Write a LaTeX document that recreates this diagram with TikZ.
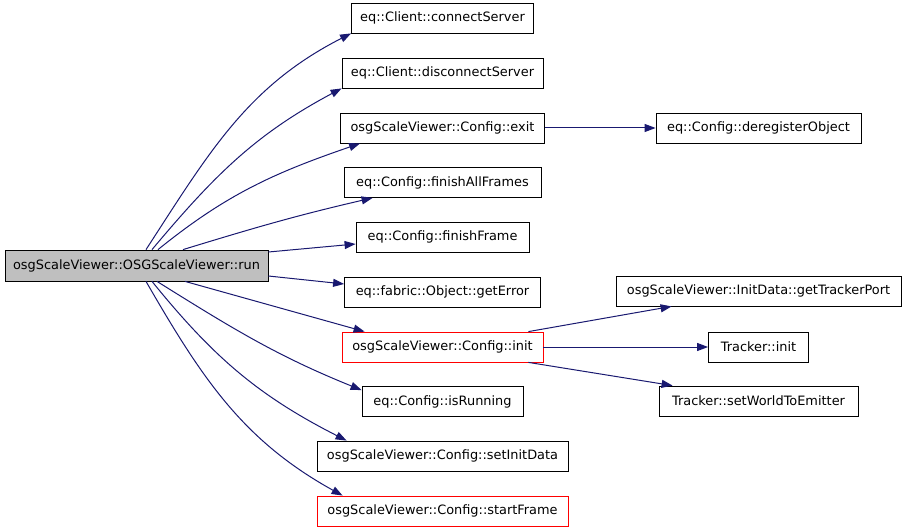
\documentclass[tikz,border=0pt]{standalone}
\usepackage{fontspec}
\setmainfont{DejaVu Sans}
\usetikzlibrary{arrows.meta}

\definecolor{callblue}{HTML}{191970}
\definecolor{rootgray}{HTML}{BFBFBF}

\tikzset{
  fn/.style={draw=black, line width=0.8pt, minimum height=30pt, inner sep=0pt,
    font=\fontsize{12.9}{15}\selectfont},
  fnred/.style={fn, draw=red},
  fnroot/.style={fn, fill=rootgray, minimum height=31pt},
  call/.style={->, draw=callblue, line width=1pt},
}

\begin{document}
\begin{tikzpicture}[x=1pt, y=1pt, >={Triangle[length=11pt,width=8pt]}]
  \useasboundingbox (0,0) rectangle (907,-532);

  % Caller
  \node[fnroot, minimum width=263pt] (run) at (136.5,-265.5) {osgScaleViewer::OSGScaleViewer::run};

  % Direct callees
  \node[fn, minimum width=182pt] (connect) at (442.5,-18) {eq::Client::connectServer};
  \node[fn, minimum width=201pt] (disconnect) at (442.5,-73) {eq::Client::disconnectServer};
  \node[fn, minimum width=204pt] (exit) at (442.5,-128) {osgScaleViewer::Config::exit};
  \node[fn, minimum width=197pt] (finishall) at (442.5,-182.5) {eq::Config::finishAllFrames};
  \node[fn, minimum width=173pt] (finishframe) at (442.5,-237) {eq::Config::finishFrame};
  \node[fn, minimum width=196pt] (geterror) at (442.5,-292) {eq::fabric::Object::getError};
  \node[fnred, minimum width=201pt] (init) at (442.5,-347) {osgScaleViewer::Config::init};
  \node[fn, minimum width=161pt] (isrunning) at (442.5,-401.5) {eq::Config::isRunning};
  \node[fn, minimum width=251pt] (setinitdata) at (442.5,-456) {osgScaleViewer::Config::setInitData};
  \node[fnred, minimum width=251pt] (startframe) at (442.5,-511) {osgScaleViewer::Config::startFrame};

  % Second level
  \node[fn, minimum width=205pt] (deregister) at (758.5,-128) {eq::Config::deregisterObject};
  \node[fn, minimum width=285pt] (trackerport) at (758.5,-291) {osgScaleViewer::InitData::getTrackerPort};
  \node[fn, minimum width=100pt] (trackerinit) at (758.5,-347) {Tracker::init};
  \node[fn, minimum width=199pt] (worldemitter) at (758.5,-401) {Tracker::setWorldToEmitter};

  % Calls from run
  \draw[call] ([xshift=9.5pt]run.north) to[out=57, in=207] (connect.south west);
  \draw[call] ([xshift=15.5pt]run.north) to[out=50, in=208] (disconnect.south west);
  \draw[call] ([xshift=21.5pt]run.north) to[out=39, in=199] ([xshift=20pt]exit.south west);
  \draw[call] ([xshift=46.5pt]run.north) to[out=17, in=193] ([xshift=29pt]finishall.south west);
  \draw[call] ([yshift=13.5pt]run.east) -- ([yshift=-7pt]finishframe.west);
  \draw[call] ([yshift=-10.5pt]run.east) -- ([yshift=8pt]geterror.west);
  \draw[call] ([xshift=48.5pt]run.south) -- ([xshift=23pt]init.north west);
  \draw[call] ([xshift=20.5pt]run.south) to[out=-32, in=158] ([yshift=-4pt]isrunning.north west);
  \draw[call] ([xshift=15.5pt]run.south) to[out=-51, in=153] ([xshift=30pt]setinitdata.north west);
  \draw[call] ([xshift=9.5pt]run.south) to[out=-60, in=151] ([xshift=26pt]startframe.north west);

  % Calls further on
  \draw[call] (exit) -- (deregister);
  \draw[call] ([xshift=-15pt]init.north east) -- ([xshift=56pt]trackerport.south west);
  \draw[call] (init) -- (trackerinit);
  \draw[call] ([xshift=-15pt]init.south east) -- ([xshift=14pt]worldemitter.north west);
\end{tikzpicture}
\end{document}
